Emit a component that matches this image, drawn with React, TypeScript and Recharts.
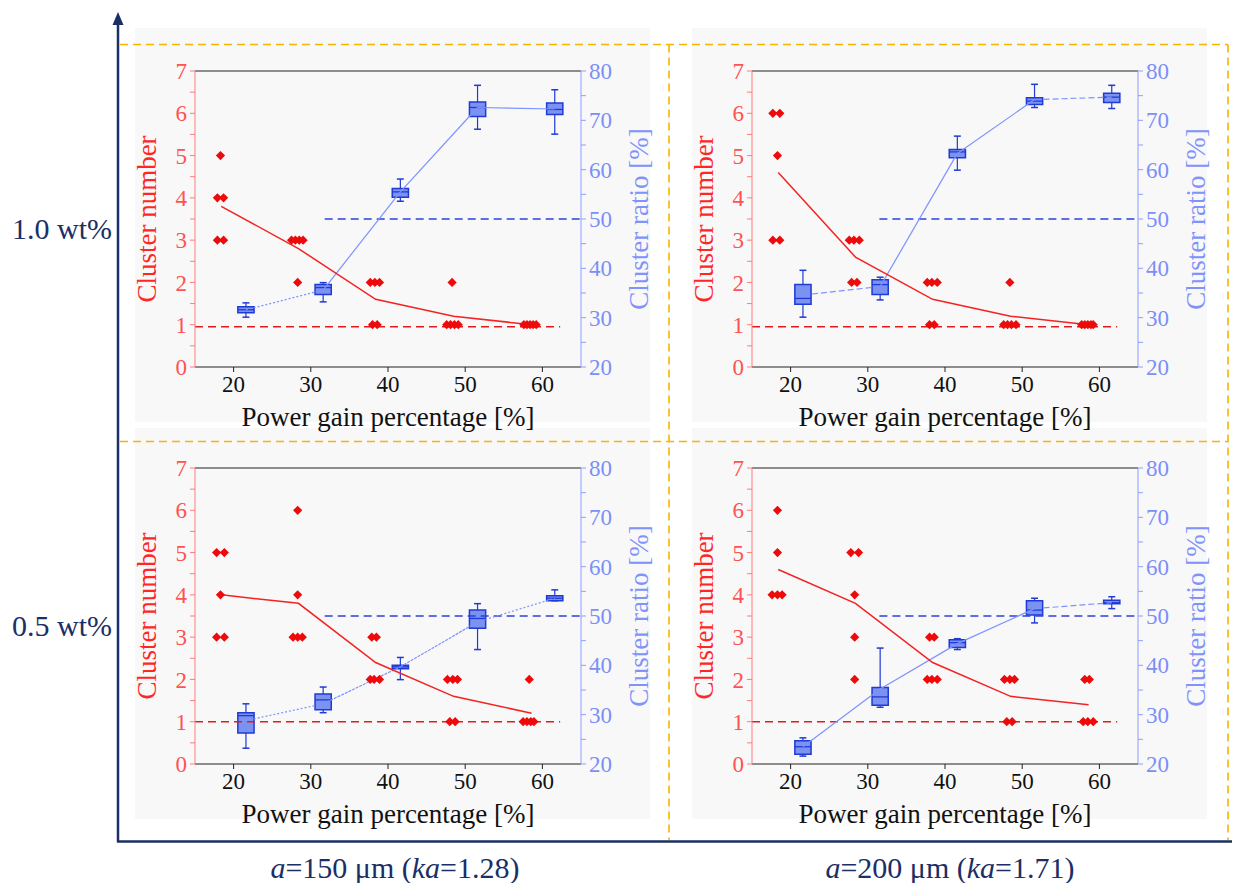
import React from 'react';
import {
  ComposedChart,
  XAxis, YAxis,
  Scatter, Line,
  ReferenceLine, ReferenceArea
} from 'recharts';

const SERIF = "'Liberation Serif', 'Times New Roman', serif";
const NAVY = '#1b2f66';

/* axes */
const xTicks = [20, 30, 40, 50, 60];
const leftTicks = [0, 0.5, 1, 1.5, 2, 2.5, 3, 3.5, 4, 4.5, 5, 5.5, 6, 6.5, 7];
const rightTicks = [20, 25, 30, 35, 40, 45, 50, 55, 60, 65, 70, 75, 80];

/* x of each box (cluster ratio) and of the mean cluster-number line */
const boxX = [21.6, 31.6, 41.6, 51.6, 61.6];
const meanX = [18.4, 28.4, 38.4, 48.5, 58.6];

/* ---- 1.0 wt%, a=150 µm ---- */
const pointsA: [number, number][] = [
  [18.3, 5], [17.9, 4], [18.7, 4], [17.9, 3], [18.7, 3],
  [27.5, 3], [28.0, 3], [28.5, 3], [29.0, 3], [28.3, 2],
  [37.7, 2], [38.3, 2], [38.9, 2], [38.0, 1], [38.6, 1],
  [48.3, 2], [47.6, 1], [48.1, 1], [48.6, 1], [49.1, 1],
  [57.6, 1], [58.0, 1], [58.4, 1], [58.8, 1], [59.2, 1]
];
const meanA = [3.8, 2.8, 1.6, 1.2, 1.0];
// min, q1, median, q3, max
const boxA = [
  [30.1, 31.0, 31.6, 32.2, 33.0],
  [33.2, 34.7, 36.1, 36.7, 37.1],
  [53.6, 54.4, 55.5, 56.2, 58.1],
  [68.2, 70.8, 72.6, 73.7, 77.1],
  [67.2, 71.2, 72.2, 73.5, 76.2]
];
const ratioA = [31.6, 35.6, 55.5, 72.6, 72.3];
const dashA = ['2 2', '', '', ''];

/* ---- 1.0 wt%, a=200 µm ---- */
const pointsB: [number, number][] = [
  [17.7, 6], [18.6, 6], [18.3, 5], [17.7, 3], [18.6, 3],
  [27.6, 3], [28.2, 3], [28.9, 3], [27.9, 2], [28.6, 2],
  [37.7, 2], [38.3, 2], [39.0, 2], [38.0, 1], [38.6, 1],
  [48.4, 2], [47.6, 1], [48.1, 1], [48.6, 1], [49.2, 1],
  [57.7, 1], [58.1, 1], [58.5, 1], [58.9, 1], [59.2, 1]
];
const meanB = [4.6, 2.6, 1.6, 1.2, 1.0];
const boxB = [
  [30.1, 32.7, 33.9, 36.7, 39.6],
  [33.6, 34.7, 36.7, 37.7, 38.2],
  [59.9, 62.4, 63.6, 64.1, 66.8],
  [72.6, 73.2, 73.9, 74.6, 77.3],
  [72.4, 73.6, 74.7, 75.5, 77.1]
];
const ratioB = [34.6, 36.3, 63.3, 74.2, 74.7];
const dashB = ['6 3', '', '', '6 3'];

/* ---- 0.5 wt%, a=150 µm ---- */
const pointsC: [number, number][] = [
  [17.8, 5], [18.8, 5], [18.3, 4], [17.8, 3], [18.8, 3],
  [28.3, 6], [28.3, 4], [27.7, 3], [28.3, 3], [28.9, 3],
  [37.9, 3], [38.5, 3], [37.7, 2], [38.2, 2], [38.9, 2],
  [47.7, 2], [48.4, 2], [49.0, 2], [48.0, 1], [48.7, 1],
  [58.3, 2], [57.5, 1], [58.0, 1], [58.5, 1], [58.9, 1]
];
const meanC = [4.0, 3.8, 2.4, 1.6, 1.2];
const boxC = [
  [23.2, 26.3, 29.8, 30.4, 32.2],
  [30.4, 31.0, 33.0, 34.2, 35.6],
  [37.1, 39.3, 39.7, 40.0, 41.6],
  [43.2, 47.5, 49.5, 51.2, 52.5],
  [53.1, 53.1, 53.6, 54.1, 55.3]
];
const ratioC = [28.8, 32.2, 39.7, 48.8, 53.6];
const dashC = ['2 2', '3 1', '3 1', '2 2'];

/* ---- 0.5 wt%, a=200 µm ---- */
const pointsD: [number, number][] = [
  [18.3, 6], [18.3, 5], [17.6, 4], [18.3, 4], [18.9, 4],
  [27.8, 5], [28.8, 5], [28.3, 4], [28.3, 3], [28.3, 2],
  [38.0, 3], [38.6, 3], [37.7, 2], [38.3, 2], [39.0, 2],
  [47.7, 2], [48.4, 2], [49.0, 2], [48.0, 1], [48.7, 1],
  [58.1, 2], [58.7, 2], [57.9, 1], [58.5, 1], [59.2, 1]
];
const meanD = [4.6, 3.8, 2.4, 1.6, 1.4];
const boxD = [
  [21.6, 22.0, 23.5, 24.7, 25.3],
  [31.5, 31.9, 33.6, 35.5, 43.5],
  [43.2, 43.6, 44.6, 45.2, 45.4],
  [48.6, 50.2, 51.2, 53.1, 53.6],
  [51.5, 52.5, 52.7, 53.2, 53.9]
];
const ratioD = [23.5, 35.2, 44.4, 51.5, 52.7];
const dashD = ['', '', '', '6 3'];

const BOX_HALF = 1.05;
const CAP_HALF = 0.45;

// chart box is a bit bigger than the grey panel so titles can spill over it
const PAD = 20;

const Diamond = (p: any) => {
  const { cx, cy } = p;
  if (cx == null || cy == null) return null;
  const r = 4.6;
  return <path d={`M${cx},${cy - r}L${cx + r},${cy}L${cx},${cy + r}L${cx - r},${cy}Z`} fill="#ee0a0a" />;
};

const leftTitle = (p: any) => {
  const vb = p.viewBox || {};
  const cx = vb.x + 12, cy = vb.y + vb.height / 2;
  return (
    <text x={cx} y={cy} transform={`rotate(-90 ${cx} ${cy})`} textAnchor="middle" dominantBaseline="central"
          fill="#ff2626" fontSize={27} fontFamily={SERIF}>Cluster number</text>
  );
};
const rightTitle = (p: any) => {
  const vb = p.viewBox || {};
  const cx = vb.x + 58, cy = vb.y + vb.height / 2;
  return (
    <text x={cx} y={cy} transform={`rotate(-90 ${cx} ${cy})`} textAnchor="middle" dominantBaseline="central"
          fill="#7f93fa" fontSize={27} fontFamily={SERIF}>Cluster ratio [%]</text>
  );
};
const bottomTitle = (p: any) => {
  const vb = p.viewBox || {};
  return (
    <text x={vb.x + vb.width / 2} y={vb.y + 50} textAnchor="middle" dominantBaseline="central"
          fill="#111" fontSize={27} fontFamily={SERIF}>Power gain percentage [%]</text>
  );
};

type PanelProps = {
  points: [number, number][];
  mean: number[];
  boxes: number[][];
  ratio: number[];
  dash: string[];
  base: number;
  halfFrom: number;
  left: number;
  top: number;
};

function Panel({ points, mean, boxes, ratio, dash, base, halfFrom, left, top }: PanelProps) {
  const pts = points.map(([x, y]) => ({ x, y }));
  const meanPts = mean.map((y, i) => ({ x: meanX[i], y }));
  const ratioPts = ratio.map((y, i) => ({ x: boxX[i], y }));
  const boxStroke = '#1f3ad6';

  return (
    <div style={{ position: 'absolute', left: left - PAD, top }}>
      <ComposedChart width={515 + 2 * PAD} height={394 + PAD} margin={{ top: 43, right: PAD, bottom: PAD, left: PAD }}>
        <XAxis type="number" dataKey="x" domain={[15, 65]} ticks={xTicks} height={55}
               stroke="#222" tickSize={5} tickMargin={4}
               tick={{ fill: '#111', fontSize: 23, fontFamily: SERIF }}
               label={{ value: 'Power gain percentage [%]', content: bottomTitle }} />
        <YAxis yAxisId="left" dataKey="y" domain={[0, 7]} ticks={leftTicks} width={60}
               stroke="#ff7c7c" tickSize={5} tickMargin={3} interval={0}
               tickFormatter={(v: number) => (Number.isInteger(v) ? String(v) : '')}
               tick={{ fill: '#ff5252', fontSize: 23, fontFamily: SERIF }}
               label={{ value: 'Cluster number', content: leftTitle }} />
        <YAxis yAxisId="right" orientation="right" dataKey="y" domain={[20, 80]} ticks={rightTicks} width={69}
               stroke="#8d9eff" tickSize={5} tickMargin={3} interval={0}
               tickFormatter={(v: number) => (v % 10 === 0 ? String(v) : '')}
               tick={{ fill: '#7b8ff7', fontSize: 23, fontFamily: SERIF }}
               label={{ value: 'Cluster ratio [%]', content: rightTitle }} />

        <ReferenceLine yAxisId="left" y={7} stroke="#222" strokeWidth={1.2} />
        <ReferenceLine yAxisId="left" segment={[{ x: 15, y: base }, { x: 62.3, y: base }]}
                       stroke="#e01b1b" strokeWidth={1.5} strokeDasharray="8 5" />
        <ReferenceLine yAxisId="right" segment={[{ x: halfFrom, y: 50 }, { x: 65, y: 50 }]}
                       stroke="#2b40dc" strokeWidth={1.5} strokeDasharray="8 5" />

        {boxes.map(([mn, q1, md, q3, mx], i) => {
          const x = boxX[i];
          return [
            <ReferenceLine key={'wu' + i} yAxisId="right" segment={[{ x, y: q3 }, { x, y: mx }]} stroke={boxStroke} strokeWidth={1.2} />,
            <ReferenceLine key={'wl' + i} yAxisId="right" segment={[{ x, y: mn }, { x, y: q1 }]} stroke={boxStroke} strokeWidth={1.2} />,
            <ReferenceLine key={'cu' + i} yAxisId="right" segment={[{ x: x - CAP_HALF, y: mx }, { x: x + CAP_HALF, y: mx }]} stroke={boxStroke} strokeWidth={1.5} />,
            <ReferenceLine key={'cl' + i} yAxisId="right" segment={[{ x: x - CAP_HALF, y: mn }, { x: x + CAP_HALF, y: mn }]} stroke={boxStroke} strokeWidth={1.5} />,
            <ReferenceArea key={'b' + i} yAxisId="right" x1={x - BOX_HALF} x2={x + BOX_HALF} y1={q1} y2={q3}
                           fill="#6d86ef" fillOpacity={0.9} stroke={boxStroke} strokeWidth={1.5} />,
            <ReferenceLine key={'m' + i} yAxisId="right" segment={[{ x: x - BOX_HALF, y: md }, { x: x + BOX_HALF, y: md }]} stroke={boxStroke} strokeWidth={1.3} />
          ];
        })}

        {dash.map((d, i) => (
          <Line key={'r' + i} yAxisId="right" data={ratioPts.slice(i, i + 2)} dataKey="y" type="linear"
                stroke="#7d93ff" strokeWidth={1.2} strokeDasharray={d || undefined}
                dot={false} activeDot={false} isAnimationActive={false} />
        ))}
        <Line yAxisId="left" data={meanPts} dataKey="y" type="linear" stroke="#f42222" strokeWidth={1.5}
              dot={false} activeDot={false} isAnimationActive={false} />
        <Scatter yAxisId="left" data={pts} dataKey="y" shape={Diamond} isAnimationActive={false} />
      </ComposedChart>
    </div>
  );
}

function Frame() {
  const orange = { stroke: '#f7b500', strokeWidth: 1.6, strokeDasharray: '8 5', fill: 'none' };
  const txt = { fontFamily: SERIF, fontSize: 30, fill: NAVY, textAnchor: 'middle' as const, dominantBaseline: 'central' as const };
  return (
    <svg width={1245} height={883} style={{ position: 'absolute', left: 0, top: 0, pointerEvents: 'none' }}>
      <line x1={120} y1={44.5} x2={1228} y2={44.5} {...orange} />
      <line x1={120} y1={441.5} x2={1228} y2={441.5} {...orange} />
      <line x1={669} y1={44.5} x2={669} y2={840} {...orange} />
      <line x1={1228} y1={44.5} x2={1228} y2={840} {...orange} />
      <line x1={118} y1={22} x2={118} y2={842} stroke={NAVY} strokeWidth={2.5} />
      <line x1={117} y1={841.5} x2={1232} y2={841.5} stroke={NAVY} strokeWidth={2.5} />
      <polygon points="118,12 112.5,25 123.5,25" fill={NAVY} />
      <text x={62} y={228} {...txt}>1.0 wt%</text>
      <text x={62} y={625} {...txt}>0.5 wt%</text>
      <text x={395} y={867} {...txt}><tspan fontStyle="italic">a</tspan>=150 μm (<tspan fontStyle="italic">ka</tspan>=1.28)</text>
      <text x={950} y={867} {...txt}><tspan fontStyle="italic">a</tspan>=200 μm (<tspan fontStyle="italic">ka</tspan>=1.71)</text>
    </svg>
  );
}

const grey = (left: number, top: number, height: number): React.CSSProperties => ({
  position: 'absolute', left, top, width: 515, height, background: '#f8f8f8'
});

export default function App() {
  return (
    <div style={{ position: 'absolute', left: 0, top: 0, width: 1245, height: 883, background: '#fff', overflow: 'hidden' }}>
      <div style={grey(135, 28, 394)} />
      <div style={grey(692, 28, 394)} />
      <div style={grey(135, 428, 391)} />
      <div style={grey(692, 428, 391)} />
      <Panel points={pointsA} mean={meanA} boxes={boxA} ratio={ratioA} dash={dashA} base={0.95} halfFrom={31.8} left={135} top={28} />
      <Panel points={pointsB} mean={meanB} boxes={boxB} ratio={ratioB} dash={dashB} base={0.95} halfFrom={31.5} left={692} top={28} />
      <Panel points={pointsC} mean={meanC} boxes={boxC} ratio={ratioC} dash={dashC} base={1} halfFrom={31.8} left={135} top={425} />
      <Panel points={pointsD} mean={meanD} boxes={boxD} ratio={ratioD} dash={dashD} base={1} halfFrom={31.5} left={692} top={425} />
      <Frame />
    </div>
  );
}
